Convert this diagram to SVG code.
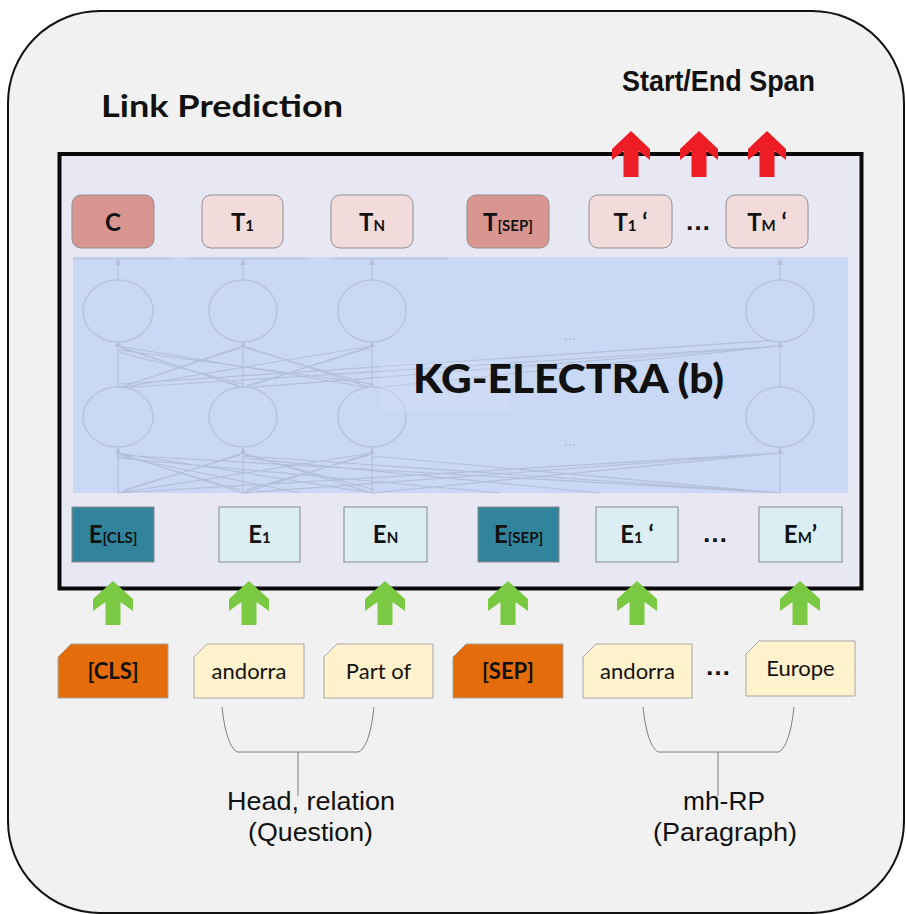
<svg xmlns="http://www.w3.org/2000/svg" width="906" height="914" viewBox="0 0 906 914">
  <defs>
    <style>
      .lbl { font-family: Lato, "Open Sans", "Liberation Sans", sans-serif; fill: #111; }
      .b { font-weight: bold; }
      .cap { font-family: "Liberation Sans", Arial, sans-serif; fill: #111; }
      .tbox { stroke: #8f8f8f; stroke-width: 1; }
      .ebox { stroke: #8a8a8a; stroke-width: 1; }
      .tok { stroke: #a6a6a6; stroke-width: 1; }
      .net { fill: none; stroke: #afbbd1; stroke-width: 1.2; }
      .cell { fill: #cbd9f3; stroke: #b4c0d6; stroke-width: 1.5; }
      .brace { fill: none; stroke: #7f7f7f; stroke-width: 1; }
      .up-red { fill: #ee1c25; }
      .up-green { fill: #7bc843; }
      .dots { font-family: "Liberation Sans", sans-serif; font-weight: bold; font-size: 26px; fill: #111; }
    </style>
    <polygon id="redArrow" points="0,0 19,18 19,29 7.5,20 7.5,46 -7.5,46 -7.5,20 -19,29 -19,18"/>
    <polygon id="greenArrow" points="0,0 20,18 20,30 7.5,21 7.5,44 -7.5,44 -7.5,21 -20,30 -20,18"/>
    <path id="netHead" d="M0,0 L-3,7 L3,7 Z" fill="#afbbd1"/>
  </defs>

  <!-- outer panel -->
  <rect x="8" y="11" width="896" height="902" rx="92" ry="92" fill="#f1f1f1" stroke="#111" stroke-width="2"/>

  <text class="lbl b" x="101" y="117" font-size="30" textLength="242" lengthAdjust="spacingAndGlyphs">Link Prediction</text>
  <text class="cap b" x="622" y="91" font-size="29" textLength="193" lengthAdjust="spacingAndGlyphs">Start/End Span</text>

  <!-- encoder frame -->
  <g id="encoder">
    <rect x="59.5" y="154" width="802" height="434.5" fill="#e8e7f4" stroke="#0a0a0a" stroke-width="4"/>
    <rect x="73" y="257" width="775" height="236" fill="#c9d9f5"/>
    <!-- soft shadow under top tokens -->
    <path d="M73,258.5 H170 M190,258.5 H310 M330,258.5 H448" stroke="#a9b4c8" stroke-width="2" opacity="0.35"/>
    <!-- faded transformer lattice -->
    <g id="lattice" opacity="0.8">
      <path class="net" d="M118,388 L243,346 M118,388 L372,346 M118,388 L780,346
        M243,388 L118,346 M243,388 L372,346 M243,388 L780,346
        M372,388 L118,346 M372,388 L243,346 M372,388 L780,346
        M124,386 L240,348 M240,386 L121,348 M375,386 L246,348 M246,386 L369,348
        M120,384 L780,340 M372,384 L118,350 M243,384 L118,352
        M118,493 L243,453 M118,493 L372,453 M118,493 L780,453
        M243,493 L118,453 M243,493 L372,453 M243,493 L780,453
        M372,493 L118,453 M372,493 L243,453 M372,493 L780,453
        M780,493 L118,455 M780,493 L243,456 M780,493 L372,456
        M124,490 L240,455 M240,490 L121,455 M375,490 L246,455 M246,490 L369,455
        M300,493 L118,456 M500,493 L118,458 M600,493 L243,458"/>
      <path class="net" d="M118,280 V262 M243,280 V262 M372,280 V262 M780,280 V262
        M118,387 V341 M243,387 V341 M372,387 V341 M780,387 V341
        M118,493 V448 M243,493 V448 M372,493 V448 M780,493 V448"/>
      <use href="#netHead" transform="translate(118,258)"/>
      <use href="#netHead" transform="translate(243,258)"/>
      <use href="#netHead" transform="translate(372,258)"/>
      <use href="#netHead" transform="translate(780,258)"/>
      <use href="#netHead" transform="translate(118,340)"/>
      <use href="#netHead" transform="translate(243,340)"/>
      <use href="#netHead" transform="translate(372,340)"/>
      <use href="#netHead" transform="translate(780,340)"/>
      <use href="#netHead" transform="translate(118,447)"/>
      <use href="#netHead" transform="translate(243,447)"/>
      <use href="#netHead" transform="translate(372,447)"/>
      <use href="#netHead" transform="translate(780,447)"/>
      <ellipse class="cell" cx="118" cy="311" rx="35" ry="31"/>
      <ellipse class="cell" cx="243" cy="311" rx="34" ry="31"/>
      <ellipse class="cell" cx="372" cy="311" rx="34" ry="31"/>
      <ellipse class="cell" cx="780" cy="311" rx="34" ry="31"/>
      <ellipse class="cell" cx="118" cy="417" rx="35" ry="30"/>
      <ellipse class="cell" cx="243" cy="417" rx="34" ry="30"/>
      <ellipse class="cell" cx="372" cy="417" rx="34" ry="30"/>
      <ellipse class="cell" cx="780" cy="417" rx="34" ry="30"/>
      <text x="570" y="340" font-family="'Liberation Sans', sans-serif" font-size="16" fill="#aab4c8" text-anchor="middle">...</text>
      <text x="570" y="446" font-family="'Liberation Sans', sans-serif" font-size="16" fill="#aab4c8" text-anchor="middle">...</text>
    </g>
    <rect x="380" y="362" width="130" height="50" fill="#dde2f6" opacity="0.25"/>
    <text class="lbl" font-weight="900" x="413" y="393" font-size="40" textLength="311" lengthAdjust="spacingAndGlyphs">KG-ELECTRA (b)</text>
  </g>

  <!-- output tokens -->
  <g id="out-C"><rect class="tbox" x="72" y="195" width="82" height="53" rx="9" fill="#d9958f"/>
    <text class="lbl b" x="113" y="231" font-size="24" text-anchor="middle">C</text></g>
  <g id="out-T1"><rect class="tbox" x="202" y="195" width="81" height="53" rx="9" fill="#f2dcdb"/>
    <text class="lbl b" x="242.5" y="231" font-size="24" text-anchor="middle">T<tspan font-size="15">1</tspan></text></g>
  <g id="out-TN"><rect class="tbox" x="331" y="195" width="82" height="53" rx="9" fill="#f2dcdb"/>
    <text class="lbl b" x="372" y="231" font-size="24" text-anchor="middle">T<tspan font-size="15">N</tspan></text></g>
  <g id="out-TSEP"><rect class="tbox" x="467" y="195" width="82" height="53" rx="9" fill="#d9958f"/>
    <text class="lbl b" x="508" y="231" font-size="24" text-anchor="middle">T<tspan font-size="15">[SEP]</tspan></text></g>
  <g id="out-T1p"><rect class="tbox" x="589" y="195" width="83" height="53" rx="9" fill="#f2dcdb"/>
    <text class="lbl b" x="630.5" y="231" font-size="24" text-anchor="middle">T<tspan font-size="15">1</tspan> ‘</text></g>
  <text class="dots" x="698" y="230" text-anchor="middle">…</text>
  <g id="out-TMp"><rect class="tbox" x="726" y="195" width="82" height="53" rx="9" fill="#f2dcdb"/>
    <text class="lbl b" x="767" y="231" font-size="24" text-anchor="middle">T<tspan font-size="15">M</tspan> ‘</text></g>

  <!-- embeddings -->
  <g id="emb-CLS"><rect class="ebox" x="72" y="507" width="82" height="55" fill="#31849b"/>
    <text class="lbl b" x="113" y="543" font-size="24" text-anchor="middle">E<tspan font-size="15">[CLS]</tspan></text></g>
  <g id="emb-E1"><rect class="ebox" x="219" y="507" width="81" height="55" fill="#daeef3"/>
    <text class="lbl b" x="259.5" y="543" font-size="24" text-anchor="middle">E<tspan font-size="15">1</tspan></text></g>
  <g id="emb-EN"><rect class="ebox" x="344" y="507" width="83" height="55" fill="#daeef3"/>
    <text class="lbl b" x="385.5" y="543" font-size="24" text-anchor="middle">E<tspan font-size="15">N</tspan></text></g>
  <g id="emb-SEP"><rect class="ebox" x="478" y="507" width="81" height="55" fill="#31849b"/>
    <text class="lbl b" x="518.5" y="543" font-size="24" text-anchor="middle">E<tspan font-size="15">[SEP]</tspan></text></g>
  <g id="emb-E1p"><rect class="ebox" x="596" y="507" width="82" height="55" fill="#daeef3"/>
    <text class="lbl b" x="637" y="543" font-size="24" text-anchor="middle">E<tspan font-size="15">1</tspan> ‘</text></g>
  <text class="dots" x="715" y="542" text-anchor="middle">…</text>
  <g id="emb-EMp"><rect class="ebox" x="759" y="507" width="83" height="55" fill="#daeef3"/>
    <text class="lbl b" x="800.5" y="543" font-size="24" text-anchor="middle">E<tspan font-size="15">M</tspan>’</text></g>

  <!-- input tokens -->
  <g id="tok-CLS"><path class="tok" d="M71,644 H168 V698 H58 V657 Z" fill="#e46c0a" stroke="#c25a08"/>
    <text class="lbl b" x="113" y="679" font-size="22" text-anchor="middle">[CLS]</text></g>
  <g id="tok-andorra1"><path class="tok" d="M207,644 H304 V698 H194 V657 Z" fill="#fff2cc"/>
    <text class="lbl" x="249" y="679" font-size="22" text-anchor="middle">andorra</text></g>
  <g id="tok-partof"><path class="tok" d="M337,644 H433 V698 H324 V657 Z" fill="#fff2cc"/>
    <text class="lbl" x="378.5" y="679" font-size="22" text-anchor="middle">Part of</text></g>
  <g id="tok-SEP"><path class="tok" d="M466,644 H563 V698 H453 V657 Z" fill="#e46c0a" stroke="#c25a08"/>
    <text class="lbl b" x="508" y="679" font-size="22" text-anchor="middle">[SEP]</text></g>
  <g id="tok-andorra2"><path class="tok" d="M596,644 H692 V698 H583 V657 Z" fill="#fff2cc"/>
    <text class="lbl" x="637.5" y="679" font-size="22" text-anchor="middle">andorra</text></g>
  <text class="dots" x="718" y="675" text-anchor="middle">…</text>
  <g id="tok-europe"><path class="tok" d="M759,641 H855 V696 H746 V654 Z" fill="#fff2cc"/>
    <text class="lbl" x="800.5" y="676" font-size="22" text-anchor="middle">Europe</text></g>

  <!-- connectors -->
  <g id="connectors">
    <use href="#redArrow" class="up-red" x="631" y="131"/>
    <use href="#redArrow" class="up-red" x="699" y="131"/>
    <use href="#redArrow" class="up-red" x="767" y="131"/>
    <use href="#greenArrow" class="up-green" x="113" y="581"/>
    <use href="#greenArrow" class="up-green" x="249" y="581"/>
    <use href="#greenArrow" class="up-green" x="385" y="581"/>
    <use href="#greenArrow" class="up-green" x="508" y="581"/>
    <use href="#greenArrow" class="up-green" x="637" y="581"/>
    <use href="#greenArrow" class="up-green" x="800" y="581"/>
    <path class="brace" d="M222,707 Q226,745 237,752 H359 Q370,745 374,707 M298,752 V796"/>
    <path class="brace" d="M643,707 Q647,745 658,752 H779 Q790,745 794,707 M718,752 V796"/>
  </g>

  <g id="captions">
    <text class="cap" x="311" y="810" font-size="26" text-anchor="middle" textLength="168" lengthAdjust="spacingAndGlyphs">Head, relation</text>
    <text class="cap" x="310.5" y="841" font-size="26" text-anchor="middle" textLength="125" lengthAdjust="spacingAndGlyphs">(Question)</text>
    <text class="cap" x="724" y="810" font-size="26" text-anchor="middle" textLength="82" lengthAdjust="spacingAndGlyphs">mh-RP</text>
    <text class="cap" x="725" y="841" font-size="26" text-anchor="middle" textLength="144" lengthAdjust="spacingAndGlyphs">(Paragraph)</text>
  </g>
</svg>
